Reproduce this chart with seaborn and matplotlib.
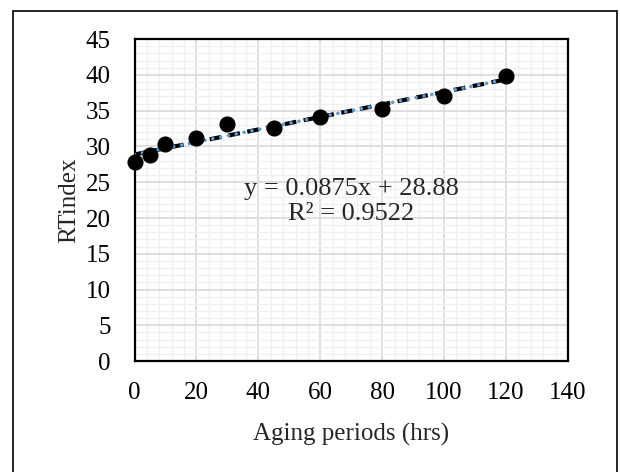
import numpy as np
import pandas as pd
import matplotlib
matplotlib.use("Agg")
import matplotlib.pyplot as plt
import seaborn as sns
from matplotlib.patches import Rectangle
from matplotlib.ticker import MultipleLocator

aging_hrs = [0, 5, 10, 20, 30, 45, 60, 80, 100, 120]
rt_index = [27.8, 28.8, 30.3, 31.2, 33.1, 32.6, 34.1, 35.2, 37.0, 39.9]
slope = 0.0875
intercept = 28.88
r_squared = 0.9522
x_ticks = [0, 20, 40, 60, 80, 100, 120, 140]
y_ticks = [0, 5, 10, 15, 20, 25, 30, 35, 40, 45]

df = pd.DataFrame({"aging": aging_hrs, "rt": rt_index})
fit_x = np.array([min(aging_hrs), max(aging_hrs)])
df_fit = pd.DataFrame({"aging": fit_x, "rt": slope * fit_x + intercept})

sns.set_theme(style="white")
plt.rcParams["font.family"] = ["Liberation Serif", "DejaVu Serif"]

fig = plt.figure(figsize=(6.2, 4.72), dpi=100)
ax = fig.add_axes([0.217, 0.235, 0.699, 0.682])

# light excel-style grid
ax.xaxis.set_major_locator(MultipleLocator(20))
ax.xaxis.set_minor_locator(MultipleLocator(4))
ax.yaxis.set_major_locator(MultipleLocator(5))
ax.yaxis.set_minor_locator(MultipleLocator(1))
ax.grid(which="major", color="#d9d9d9", linewidth=1.2)
ax.grid(which="minor", color="#f0f0f0", linewidth=1.0)
ax.set_axisbelow(True)

# trendline: black dashes with blue round dots on top
sns.lineplot(data=df_fit, x="aging", y="rt", ax=ax, color="black",
             linewidth=3.0, linestyle=(0, (2.8, 1.8)), zorder=3)
sns.lineplot(data=df_fit, x="aging", y="rt", ax=ax, color="#5b9bd5",
             linewidth=2.6, linestyle=(0, (0.01, 2.2)), zorder=4,
             dash_capstyle="round")
sns.scatterplot(data=df, x="aging", y="rt", ax=ax, color="black", s=115,
                edgecolor="black", zorder=5, clip_on=False)

ax.set_xlim(0, 140)
ax.set_ylim(0, 45)
ax.set_xticks(x_ticks)
ax.set_yticks(y_ticks)
ax.tick_params(axis="both", which="both", length=0, labelsize=18, colors="black")
ax.tick_params(axis="x", pad=15)
ax.tick_params(axis="y", pad=17)
for s in ax.spines.values():
    s.set_visible(True)
    s.set_color("black")
    s.set_linewidth(1.6)

ax.set_xlabel("Aging periods (hrs)", fontsize=18, labelpad=14)
ax.set_ylabel("RTindex", fontsize=18, labelpad=4)

ax.text(70, 22.3, f"y = {slope}x + {intercept}\nR² = {r_squared}",
        ha="center", va="center", fontsize=19, linespacing=1.22, zorder=6)

# outer chart border
fig.patches.append(Rectangle((13 / 620, -0.05), 604 / 620, 1.05 - 11 / 472,
                             transform=fig.transFigure, fill=False,
                             edgecolor="black", linewidth=1.2))

fig.savefig("out.png", dpi=100)
